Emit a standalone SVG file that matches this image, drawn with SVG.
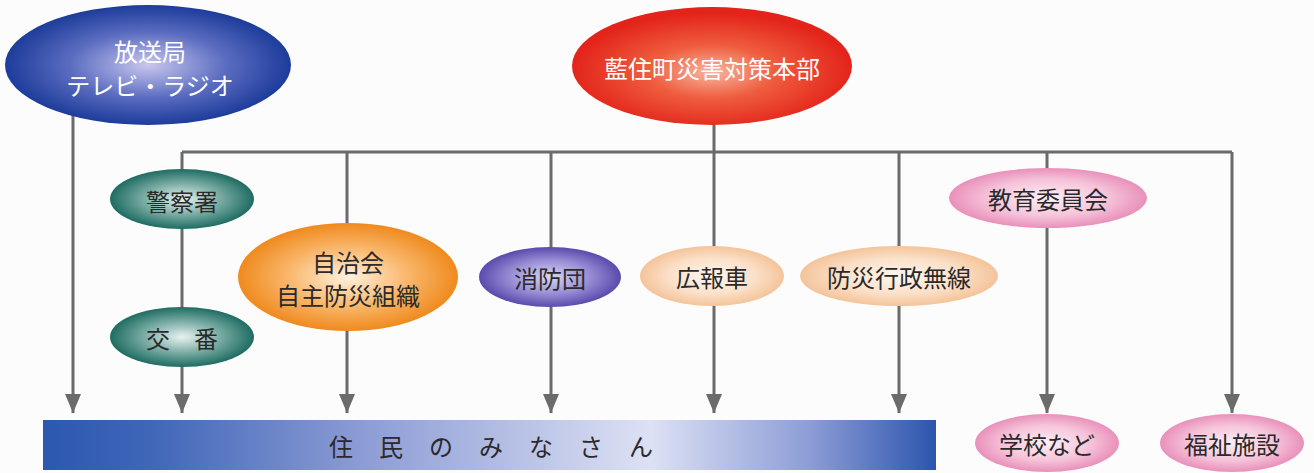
<svg xmlns="http://www.w3.org/2000/svg" width="1314" height="473" viewBox="0 0 1314 473">
<style>
text{font-family:"Noto Sans CJK JP","Noto Sans",sans-serif;text-anchor:middle;dominant-baseline:central}
.w{fill:#ffffff;font-size:24px}
.d{fill:#2a2a2a;font-size:24px}
.ln{stroke:#6b6b6b;stroke-width:3;fill:none}
</style>
<defs>
<marker id="ah2" markerUnits="userSpaceOnUse" markerWidth="20" markerHeight="16" refX="19" refY="8" orient="auto" viewBox="0 0 20 16">
<path d="M0,0 L19,8 L0,16 Z" fill="#6b6b6b"/>
</marker>
<radialGradient id="gBlue" cx="0.5" cy="0.5" r="0.5"><stop offset="0" stop-color="#c9c6ee"/><stop offset="0.55" stop-color="#5a6cc0"/><stop offset="1" stop-color="#1d3c9a"/></radialGradient>
<radialGradient id="gRed" cx="0.5" cy="0.55" r="0.5"><stop offset="0" stop-color="#f6b6a2"/><stop offset="0.45" stop-color="#ef5d3e"/><stop offset="1" stop-color="#e3241a"/></radialGradient>
<radialGradient id="gTeal" cx="0.5" cy="0.5" r="0.5"><stop offset="0" stop-color="#e8f2ef"/><stop offset="0.5" stop-color="#7fb0a8"/><stop offset="1" stop-color="#1f6c62"/></radialGradient>
<radialGradient id="gOrange" cx="0.5" cy="0.5" r="0.5"><stop offset="0" stop-color="#fff1de"/><stop offset="0.55" stop-color="#f9b66a"/><stop offset="1" stop-color="#ef8a1e"/></radialGradient>
<radialGradient id="gPurple" cx="0.5" cy="0.5" r="0.5"><stop offset="0" stop-color="#d9d5f2"/><stop offset="0.55" stop-color="#9a8fd6"/><stop offset="1" stop-color="#5b4aac"/></radialGradient>
<radialGradient id="gPeach" cx="0.5" cy="0.5" r="0.5"><stop offset="0" stop-color="#fff6ee"/><stop offset="0.6" stop-color="#fbe0c8"/><stop offset="1" stop-color="#f4c49a"/></radialGradient>
<radialGradient id="gPink" cx="0.5" cy="0.5" r="0.5"><stop offset="0" stop-color="#fdeef4"/><stop offset="0.6" stop-color="#f6c4da"/><stop offset="1" stop-color="#e990ba"/></radialGradient>
<linearGradient id="gBar" x1="0" y1="0" x2="1" y2="0"><stop offset="0" stop-color="#2c58b0"/><stop offset="0.12" stop-color="#3f66b8"/><stop offset="0.35" stop-color="#8a9ad4"/><stop offset="0.68" stop-color="#dde1f4"/><stop offset="0.86" stop-color="#8c9cd6"/><stop offset="1" stop-color="#2c55ad"/></linearGradient>
</defs>
<rect width="1314" height="473" fill="#fcfcfc"/>
<g id="connectors">
<path class="ln" d="M714,120 V152 M182,152 H1232"/>
<path class="ln" d="M73,110 V413" marker-end="url(#ah2)"/>
<path class="ln" d="M182,152 V413" marker-end="url(#ah2)"/>
<path class="ln" d="M347,152 V413" marker-end="url(#ah2)"/>
<path class="ln" d="M551,152 V413" marker-end="url(#ah2)"/>
<path class="ln" d="M714,152 V413" marker-end="url(#ah2)"/>
<path class="ln" d="M899,152 V413" marker-end="url(#ah2)"/>
<path class="ln" d="M1047,152 V413" marker-end="url(#ah2)"/>
<path class="ln" d="M1232,152 V413" marker-end="url(#ah2)"/>
</g>
<g id="housoukyoku"><ellipse cx="148" cy="65" rx="143" ry="60" fill="url(#gBlue)"/><text class="w" x="150" y="50">放送局</text><text class="w" x="150" y="84">テレビ・ラジオ</text></g>
<g id="honbu"><ellipse cx="712" cy="66" rx="140" ry="59" fill="url(#gRed)"/><text class="w" x="712" y="67" font-size="25">藍住町災害対策本部</text></g>
<g id="keisatsu"><ellipse cx="182" cy="199" rx="72" ry="30" fill="url(#gTeal)"/><text class="d" x="182" y="200">警察署</text></g>
<g id="kouban"><ellipse cx="182" cy="337" rx="72" ry="30" fill="url(#gTeal)"/><text class="d" x="182" y="337">交　番</text></g>
<g id="jichikai"><ellipse cx="348" cy="277" rx="110" ry="54" fill="url(#gOrange)"/><text class="d" x="348" y="261">自治会</text><text class="d" x="348" y="294">自主防災組織</text></g>
<g id="shouboudan"><ellipse cx="550" cy="277" rx="71" ry="30" fill="url(#gPurple)"/><text class="d" x="550" y="277">消防団</text></g>
<g id="kouhousha"><ellipse cx="712" cy="276" rx="72" ry="30" fill="url(#gPeach)"/><text class="d" x="712" y="276">広報車</text></g>
<g id="musen"><ellipse cx="899" cy="276" rx="99" ry="30" fill="url(#gPeach)"/><text class="d" x="899" y="276">防災行政無線</text></g>
<g id="kyouiku"><ellipse cx="1048" cy="198" rx="99" ry="30" fill="url(#gPink)"/><text class="d" x="1048" y="198">教育委員会</text></g>
<g id="juumin"><rect x="43" y="420" width="893" height="50" fill="url(#gBar)"/><text class="d" x="504" y="445" letter-spacing="26">住民のみなさん</text></g>
<g id="gakkou"><ellipse cx="1047" cy="443" rx="72" ry="29" fill="url(#gPink)"/><text class="d" x="1047" y="443">学校など</text></g>
<g id="fukushi"><ellipse cx="1232" cy="443" rx="72" ry="29" fill="url(#gPink)"/><text class="d" x="1232" y="443">福祉施設</text></g>
</svg>
